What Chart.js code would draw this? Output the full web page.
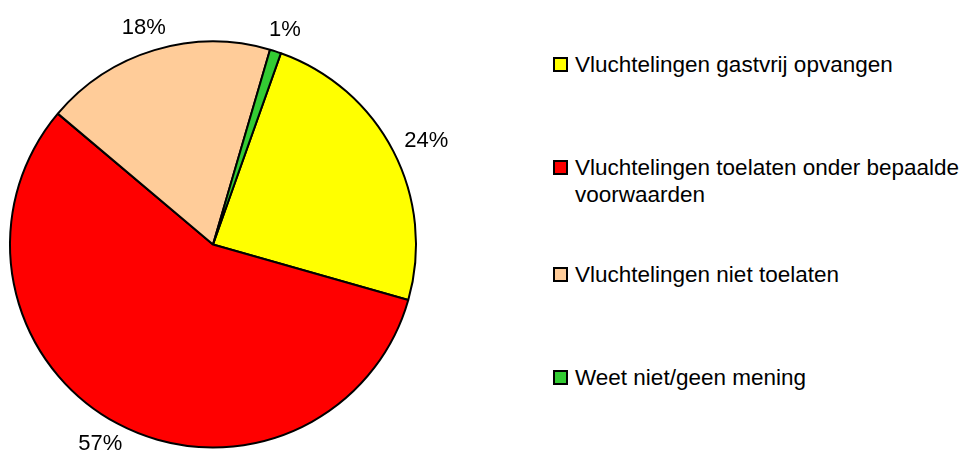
<!DOCTYPE html>
<html>
<head>
<meta charset="utf-8">
<script src="https://cdn.jsdelivr.net/npm/chart.js@4/dist/chart.umd.min.js"></script>
<style>
  body { margin: 0; background: #fff; font-family: "Liberation Sans", Arial, sans-serif; }
  #wrap { position: absolute; left: 0; top: 0; width: 540px; height: 458px; }
  #legend { position: absolute; left: 553px; top: 51px; font-size: 22.5px; line-height: 27px; color: #000; }
  .item { display: flex; align-items: flex-start; white-space: nowrap; }
  .box { width: 11px; height: 11px; border: 2px solid #000; margin-top: 6px; margin-right: 7px; flex: none; }
  .item:nth-child(2) { margin-top: 76px; }
  .item:nth-child(3) { margin-top: 53px; }
  .item:nth-child(4) { margin-top: 76px; }
</style>
</head>
<body>
<div id="wrap"><canvas id="pie__chart"></canvas></div>
<div id="legend"></div>
<script>
// Categories and shares
const categories = [
  'Vluchtelingen gastvrij opvangen',
  ['Vluchtelingen toelaten onder bepaalde', 'voorwaarden'],
  'Vluchtelingen niet toelaten',
  'Weet niet/geen mening'
];
const shares = [24.0, 56.8, 18.4, 0.9];
const sliceColors = ['#FFFF00', '#FF0000', '#FFCC99', '#33CC33'];

// Build the legend next to the pie
const legendEl = document.getElementById('legend');
categories.forEach((cat, i) => {
  const text = Array.isArray(cat) ? cat.join('<br>') : cat;
  legendEl.innerHTML += `<div class="item"><span class="box" style="background:${sliceColors[i]}"></span><span>${text}</span></div>`;
});

// Percentage labels outside the slices
const outsideLabels = {
  id: 'outsideLabels',
  afterDatasetsDraw(chart) {
    const ctx = chart.ctx;
    const meta = chart.getDatasetMeta(0);
    const values = chart.data.datasets[0].data;
    const total = values.reduce((a, b) => a + b, 0);
    ctx.save();
    ctx.font = '22px "Liberation Sans", Arial, sans-serif';
    ctx.fillStyle = '#000';
    ctx.textAlign = 'center';
    ctx.textBaseline = 'middle';
    meta.data.forEach((arc, i) => {
      const p = arc.getProps(['x', 'y', 'startAngle', 'endAngle', 'outerRadius'], true);
      const mid = (p.startAngle + p.endAngle) / 2;
      const label = Math.round(values[i] / total * 100) + '%';
      const w = ctx.measureText(label).width;
      const h = 16;
      const r = p.outerRadius + 15;
      const cx = p.x + Math.cos(mid) * (r + w / 2);
      const cy = p.y + Math.sin(mid) * r + Math.sin(mid) * h / 2;
      ctx.fillText(label, cx, cy);
    });
    ctx.restore();
  }
};

const ctx = document.getElementById('pie__chart').getContext('2d');
const pieChart = new Chart(ctx, {
  type: 'pie',
  data: {
    labels: categories,
    datasets: [{
      data: shares,
      backgroundColor: sliceColors,
      borderColor: '#000',
      borderWidth: 2,
    }],
  },
  options: {
    responsive: true,
    maintainAspectRatio: false,
    animation: false,
    rotation: 19.55,
    radius: 203,
    layout: { padding: { top: 31, right: 114, bottom: 0, left: 0 } },
    plugins: {
      legend: { display: false },
      tooltip: { enabled: false },
    },
  },
  plugins: [outsideLabels],
});
</script>
</body>
</html>
